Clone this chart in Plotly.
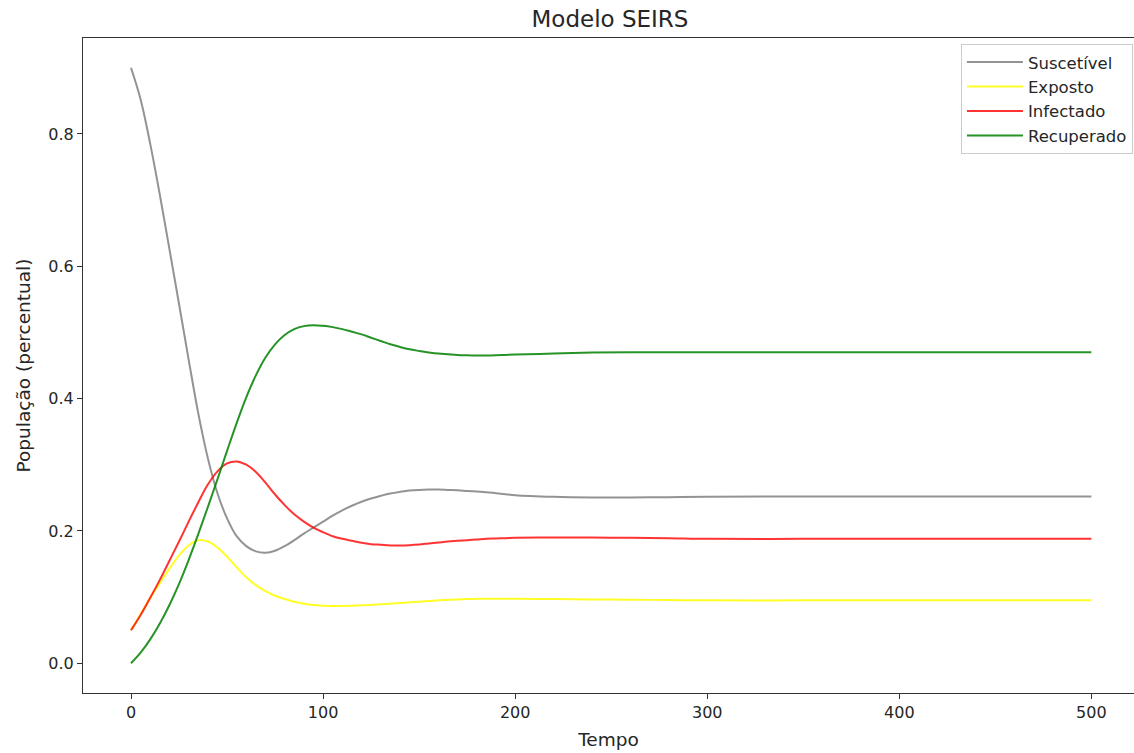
import plotly.graph_objects as go

tempo = [0, 5, 10, 15, 20, 25, 30, 35, 40, 45, 50, 55, 60, 65, 70, 75, 80, 85, 90, 95,
         100, 105, 110, 115, 120, 125, 130, 135, 140, 145, 150, 155, 160, 165, 170, 175,
         180, 185, 190, 195, 200, 220, 240, 260, 280, 300, 350, 400, 450, 500]

suscetivel = [0.900, 0.852, 0.785, 0.708, 0.626, 0.543, 0.459, 0.378, 0.310, 0.257,
              0.219, 0.192, 0.177, 0.169, 0.167, 0.170, 0.177, 0.186, 0.196, 0.205,
              0.214, 0.223, 0.231, 0.238, 0.244, 0.249, 0.253, 0.2565, 0.259, 0.261,
              0.262, 0.2625, 0.2625, 0.262, 0.2615, 0.2605, 0.2595, 0.2585, 0.257, 0.2555,
              0.254, 0.2515, 0.2505, 0.2505, 0.251, 0.2515, 0.252, 0.252, 0.252, 0.252]

exposto = [0.050, 0.074, 0.099, 0.121, 0.143, 0.163, 0.178, 0.186, 0.184, 0.175,
           0.161, 0.145, 0.130, 0.118, 0.109, 0.102, 0.097, 0.093, 0.090, 0.088,
           0.087, 0.0865, 0.0865, 0.087, 0.0875, 0.088, 0.089, 0.090, 0.091, 0.092,
           0.093, 0.094, 0.095, 0.0958, 0.0965, 0.097, 0.0973, 0.0975, 0.0975, 0.0975,
           0.0975, 0.097, 0.0965, 0.096, 0.0955, 0.095, 0.095, 0.095, 0.095, 0.095]

infectado = [0.050, 0.073, 0.099, 0.126, 0.155, 0.184, 0.214, 0.243, 0.270, 0.290,
             0.302, 0.305, 0.300, 0.289, 0.273, 0.255, 0.239, 0.225, 0.214, 0.205,
             0.198, 0.192, 0.188, 0.185, 0.182, 0.180, 0.179, 0.178, 0.178, 0.1785,
             0.1795, 0.181, 0.1825, 0.184, 0.185, 0.186, 0.187, 0.188, 0.1885, 0.189,
             0.1895, 0.190, 0.190, 0.1895, 0.189, 0.188, 0.188, 0.188, 0.188, 0.188]

recuperado = [0.000, 0.016, 0.036, 0.060, 0.088, 0.120, 0.156, 0.195, 0.236, 0.278,
              0.321, 0.363, 0.402, 0.435, 0.462, 0.482, 0.496, 0.505, 0.5095, 0.511,
              0.510, 0.508, 0.505, 0.501, 0.497, 0.492, 0.487, 0.482, 0.478, 0.4745,
              0.472, 0.4698, 0.468, 0.467, 0.466, 0.4655, 0.4652, 0.4652, 0.4655, 0.466,
              0.4665, 0.468, 0.4695, 0.470, 0.470, 0.470, 0.470, 0.470, 0.470, 0.470]

series = [
    ("Suscetível", suscetivel, "rgba(128,128,128,0.85)"),
    ("Exposto", exposto, "rgba(255,255,0,0.85)"),
    ("Infectado", infectado, "rgba(255,0,0,0.8)"),
    ("Recuperado", recuperado, "rgba(0,128,0,0.85)"),
]

fig = go.Figure()
for name, ys, color in series:
    fig.add_trace(go.Scatter(
        x=tempo, y=ys, name=name, mode="lines",
        line=dict(color=color, width=2, shape="spline", smoothing=1),
    ))

font_family = "DejaVu Sans"
fig.update_layout(
    width=1134, height=753,
    margin=dict(l=83, r=0, t=38, b=60),
    paper_bgcolor="white", plot_bgcolor="white",
    font=dict(family=font_family, size=16, color="#262626"),
    title=dict(text="Modelo SEIRS", xref="paper", x=0.5014, xanchor="center",
               y=0.9748, yanchor="middle",
               font=dict(size=23, color="#262626")),
    showlegend=True,
    legend=dict(x=0.999, xanchor="right", y=0.991, yanchor="top",
                bordercolor="#cccccc", borderwidth=1, bgcolor="rgba(255,255,255,0.8)",
                font=dict(size=16.5, color="#262626"), itemwidth=56),
)
fig.update_xaxes(
    range=[-25, 522.2], tickvals=[0, 100, 200, 300, 400, 500],
    showgrid=False, zeroline=False, showline=True, linecolor="#333333", linewidth=1, mirror=True,
    ticks="outside", ticklen=5, tickcolor="#333333", tickfont=dict(size=16),
    title=dict(text="Tempo", font=dict(size=18.5), standoff=11),
)
fig.update_yaxes(
    range=[-0.045, 0.945], tickvals=[0.0, 0.2, 0.4, 0.6, 0.8], tickformat=".1f",
    showgrid=False, zeroline=False, showline=True, linecolor="#333333", linewidth=1, mirror=False,
    ticks="outside", ticklen=5, tickcolor="#333333", tickfont=dict(size=16),
    title=dict(text="População (percentual)", font=dict(size=18.5), standoff=12),
)

fig.write_html("out.html")
